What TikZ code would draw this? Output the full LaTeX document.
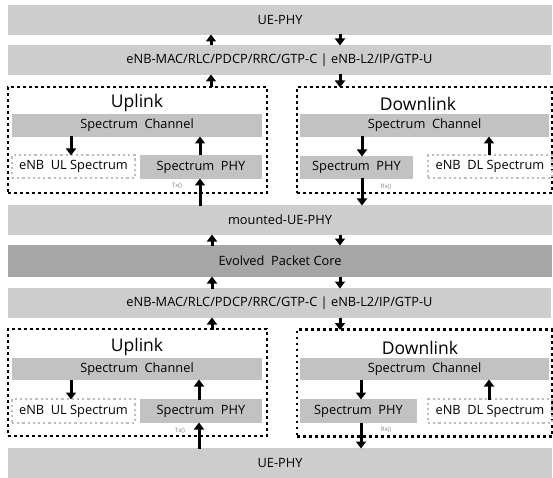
\documentclass[tikz,border=0pt]{standalone}
\usepackage{fontspec}
\setmainfont{Open Sans}
\usetikzlibrary{arrows.meta}
\definecolor{barc}{HTML}{CDCDCD}
\definecolor{specc}{HTML}{C2C2C2}
\definecolor{epcc}{HTML}{A6A6A6}
\definecolor{txtc}{HTML}{000000}
\definecolor{dotgray}{HTML}{BDBDBD}
\tikzset{
  box/.style={rectangle, inner sep=0pt, outer sep=0pt, text=txtc, font=\fontsize{12.8}{14}\selectfont},
  bar/.style={box, fill=barc},
  spec/.style={box, fill=specc},
  epcbox/.style={box, fill=epcc},
  group/.style={rectangle, inner sep=0pt, outer sep=0pt, draw=black, line width=2.8pt, dash pattern=on 2.8pt off 3.2pt},
  lgroup/.style={box, draw=dotgray, line width=2.2pt, dash pattern=on 2.2pt off 3pt},
  title/.style={text=txtc, inner sep=0pt, font=\fontsize{17.5}{20}\selectfont},
  small/.style={text=gray, inner sep=0pt, font=\fontsize{6}{7}\selectfont},
  arr/.style={line width=3pt, -{Triangle[width=10pt,length=7pt]}, shorten <=-0.5pt, shorten >=-0.5pt}
}
\begin{document}
\begin{tikzpicture}[x=1pt,y=-1pt]
\useasboundingbox (0,0) rectangle (553,478);
% top stack
\node[bar, minimum width=544pt, minimum height=30pt] (uephy) at (280,20) {UE-PHY};
\node[bar, minimum width=543pt, minimum height=30pt] (enbA) at (279.5,60) {eNB-MAC/RLC/PDCP/RRC/GTP-C | eNB-L2/IP/GTP-U};
% uplink 1
\node[group, minimum width=259pt, minimum height=106pt] (ulA) at (137.5,140) {};
\node[title] (ultA) at (137,103) {Uplink};
\node[spec, minimum width=250pt, minimum height=23pt] (ulchA) at (137,125.5) {Spectrum\ \ Channel};
\node[lgroup, minimum width=123pt, minimum height=23pt] (ulspA) at (73.5,166.5) {eNB\ \ UL Spectrum};
\node[spec, minimum width=122pt, minimum height=24pt] (ulphyA) at (201,167) {Spectrum\ \ PHY};
\node[small] (txA) at (177,186) {Tx()};
% downlink 1
\node[group, minimum width=255pt, minimum height=106pt] (dlA) at (424.5,140) {};
\node[title] (dltA) at (418,104) {Downlink};
\node[spec, minimum width=249pt, minimum height=23pt] (dlchA) at (424.5,125.5) {Spectrum\ \ Channel};
\node[spec, minimum width=113pt, minimum height=23pt] (dlphyA) at (356.5,167.5) {Spectrum\ \ PHY};
\node[lgroup, minimum width=124pt, minimum height=23pt] (dlspA) at (490,166.5) {eNB\ \ DL Spectrum};
\node[small] (rxA) at (386,187) {Rx()};
% middle stack
\node[bar, minimum width=544pt, minimum height=30pt] (mnt) at (280,220) {mounted-UE-PHY};
\node[epcbox, minimum width=544pt, minimum height=32pt] (epc) at (280,261) {Evolved\ \ Packet Core};
\node[bar, minimum width=543pt, minimum height=30pt] (enbB) at (279.5,303) {eNB-MAC/RLC/PDCP/RRC/GTP-C | eNB-L2/IP/GTP-U};
% uplink 2
\node[group, minimum width=259pt, minimum height=107pt] (ulB) at (137.5,382.5) {};
\node[title] (ultB) at (137,347) {Uplink};
\node[spec, minimum width=250pt, minimum height=22pt] (ulchB) at (137,369) {Spectrum\ \ Channel};
\node[lgroup, minimum width=123pt, minimum height=24pt] (ulspB) at (73.5,411) {eNB\ \ UL Spectrum};
\node[spec, minimum width=122pt, minimum height=24pt] (ulphyB) at (201,411) {Spectrum\ \ PHY};
\node[small] (txB) at (180,431) {Tx()};
% downlink 2
\node[group, minimum width=255pt, minimum height=107pt] (dlB) at (424.5,383) {};
\node[title] (dltB) at (420,348) {Downlink};
\node[spec, minimum width=249pt, minimum height=22pt] (dlchB) at (424.5,369) {Spectrum\ \ Channel};
\node[spec, minimum width=117pt, minimum height=24pt] (dlphyB) at (358.5,411) {Spectrum\ \ PHY};
\node[lgroup, minimum width=124pt, minimum height=24pt] (dlspB) at (490,411) {eNB\ \ DL Spectrum};
\node[small] (rxB) at (386,430) {Rx()};
% bottom
\node[bar, minimum width=544pt, minimum height=30pt] (uephyB) at (280,463) {UE-PHY};
% arrows top
\draw[arr] (enbA.north -| 211,0) -- (uephy.south -| 211,0);
\draw[arr] (uephy.south -| 340,0) -- (enbA.north -| 340,0);
\draw[arr] (ulA.north -| 211,0) -- (enbA.south -| 211,0);
\draw[arr] (enbA.south -| 340,0) -- (dlA.north -| 340,0);
\draw[arr] (ulchA.south -| 71,0) -- (ulspA.north -| 71,0);
\draw[arr] (ulphyA.north -| 200,0) -- (ulchA.south -| 200,0);
\draw[arr] (mnt.north -| 200,0) -- (ulphyA.south -| 200,0);
\draw[arr] (dlchA.south -| 362,0) -- (dlphyA.north -| 362,0);
\draw[arr] (dlspA.north -| 489,0) -- (dlchA.south -| 489,0);
\draw[arr] (dlphyA.south -| 362,0) -- (mnt.north -| 362,0);
% middle arrows
\draw[arr] (epc.north -| 212,0) -- (mnt.south -| 212,0);
\draw[arr] (mnt.south -| 340,0) -- (epc.north -| 340,0);
\draw[arr] (enbB.north -| 212,0) -- (epc.south -| 212,0);
\draw[arr] (epc.south -| 340,0) -- (enbB.north -| 340,0);
\draw[arr] (ulB.north -| 212,0) -- (enbB.south -| 212,0);
\draw[arr] (enbB.south -| 340,0) -- (dlB.north -| 340,0);
% bottom arrows
\draw[arr] (ulchB.south -| 71,0) -- (ulspB.north -| 71,0);
\draw[arr] (ulphyB.north -| 199,0) -- (ulchB.south -| 199,0);
\draw[arr] (uephyB.north -| 199,0) -- (ulphyB.south -| 199,0);
\draw[arr] (dlchB.south -| 361,0) -- (dlphyB.north -| 361,0);
\draw[arr] (dlspB.north -| 489,0) -- (dlchB.south -| 489,0);
\draw[arr] (dlphyB.south -| 361,0) -- (uephyB.north -| 361,0);
\end{tikzpicture}
\end{document}
